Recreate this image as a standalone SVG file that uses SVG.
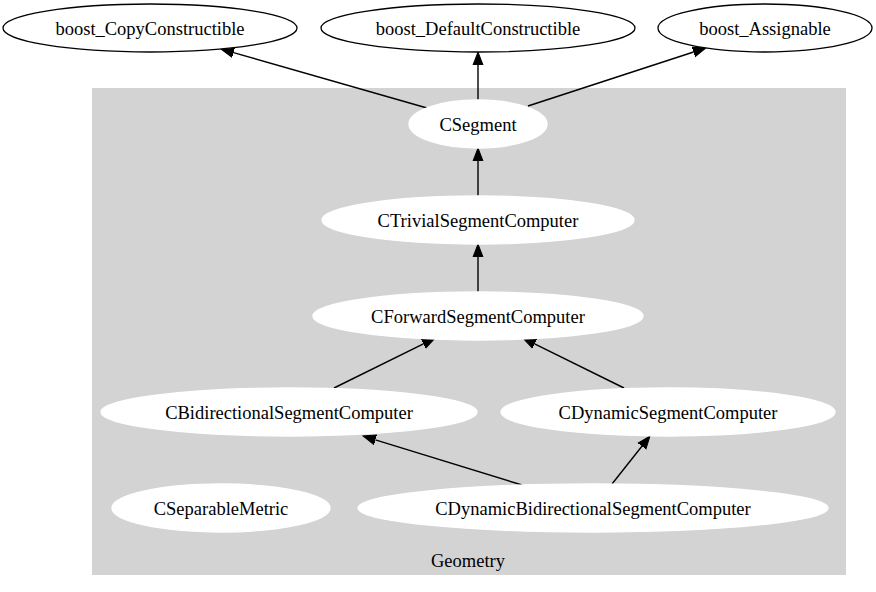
<svg xmlns="http://www.w3.org/2000/svg" width="876" height="592" viewBox="0 0 876 592">
<style>
  text { font-family: "Liberation Serif", "Times New Roman", serif; font-size: 18.5px; fill: #000; text-anchor: middle; }
  .ext ellipse { fill: #fff; stroke: #000; stroke-width: 1.3; }
  .inn ellipse { fill: #fff; stroke: #fff; stroke-width: 1.3; }
  .edge { fill: none; stroke: #000; stroke-width: 1.4; }
</style>
<defs>
  <marker id="arr" markerUnits="userSpaceOnUse" markerWidth="16" markerHeight="12" refX="0" refY="0" viewBox="0 -6 16 12" orient="auto">
    <path d="M0,-5 L13,0 L0,5 z" fill="#000" stroke="#000" stroke-width="1"/>
  </marker>
</defs>
<rect x="0" y="0" width="876" height="592" fill="#fff"/>
<g id="cluster_Geometry">
  <rect x="92" y="88" width="754" height="487" fill="#d3d3d3"/>
  <text x="468" y="567">Geometry</text>
</g>
<g id="connectors">
  <path class="edge" d="M427,108 L233.5,52.6" marker-end="url(#arr)"/>
  <path class="edge" d="M478,100 L478,65" marker-end="url(#arr)"/>
  <path class="edge" d="M528,106 L693.6,52" marker-end="url(#arr)"/>
  <path class="edge" d="M478,196 L478,161" marker-end="url(#arr)"/>
  <path class="edge" d="M478,292 L478,257" marker-end="url(#arr)"/>
  <path class="edge" d="M334,388 L423.4,343.8" marker-end="url(#arr)"/>
  <path class="edge" d="M624,388 L534.6,343.8" marker-end="url(#arr)"/>
  <path class="edge" d="M522,485 L375.4,439.8" marker-end="url(#arr)"/>
  <path class="edge" d="M612,484 L641.9,446.2" marker-end="url(#arr)"/>
</g>
<g id="boost_CopyConstructible" class="ext">
  <ellipse cx="150" cy="28" rx="147" ry="24"/>
  <text x="150" y="35">boost_CopyConstructible</text>
</g>
<g id="boost_DefaultConstructible" class="ext">
  <ellipse cx="478" cy="28" rx="157" ry="24"/>
  <text x="478" y="35">boost_DefaultConstructible</text>
</g>
<g id="boost_Assignable" class="ext">
  <ellipse cx="765" cy="28" rx="107" ry="24"/>
  <text x="765" y="35">boost_Assignable</text>
</g>
<g id="CSegment" class="inn">
  <ellipse cx="478" cy="124" rx="69" ry="24"/>
  <text x="478" y="131">CSegment</text>
</g>
<g id="CTrivialSegmentComputer" class="inn">
  <ellipse cx="478" cy="220" rx="156" ry="24"/>
  <text x="478" y="227">CTrivialSegmentComputer</text>
</g>
<g id="CForwardSegmentComputer" class="inn">
  <ellipse cx="478" cy="316" rx="165" ry="24"/>
  <text x="478" y="323">CForwardSegmentComputer</text>
</g>
<g id="CBidirectionalSegmentComputer" class="inn">
  <ellipse cx="289" cy="412" rx="188" ry="24"/>
  <text x="289" y="419">CBidirectionalSegmentComputer</text>
</g>
<g id="CDynamicSegmentComputer" class="inn">
  <ellipse cx="668" cy="412" rx="167" ry="24"/>
  <text x="668" y="419">CDynamicSegmentComputer</text>
</g>
<g id="CSeparableMetric" class="inn">
  <ellipse cx="221" cy="508" rx="109" ry="24"/>
  <text x="221" y="515">CSeparableMetric</text>
</g>
<g id="CDynamicBidirectionalSegmentComputer" class="inn">
  <ellipse cx="593" cy="508" rx="235" ry="24"/>
  <text x="593" y="515">CDynamicBidirectionalSegmentComputer</text>
</g>
</svg>
